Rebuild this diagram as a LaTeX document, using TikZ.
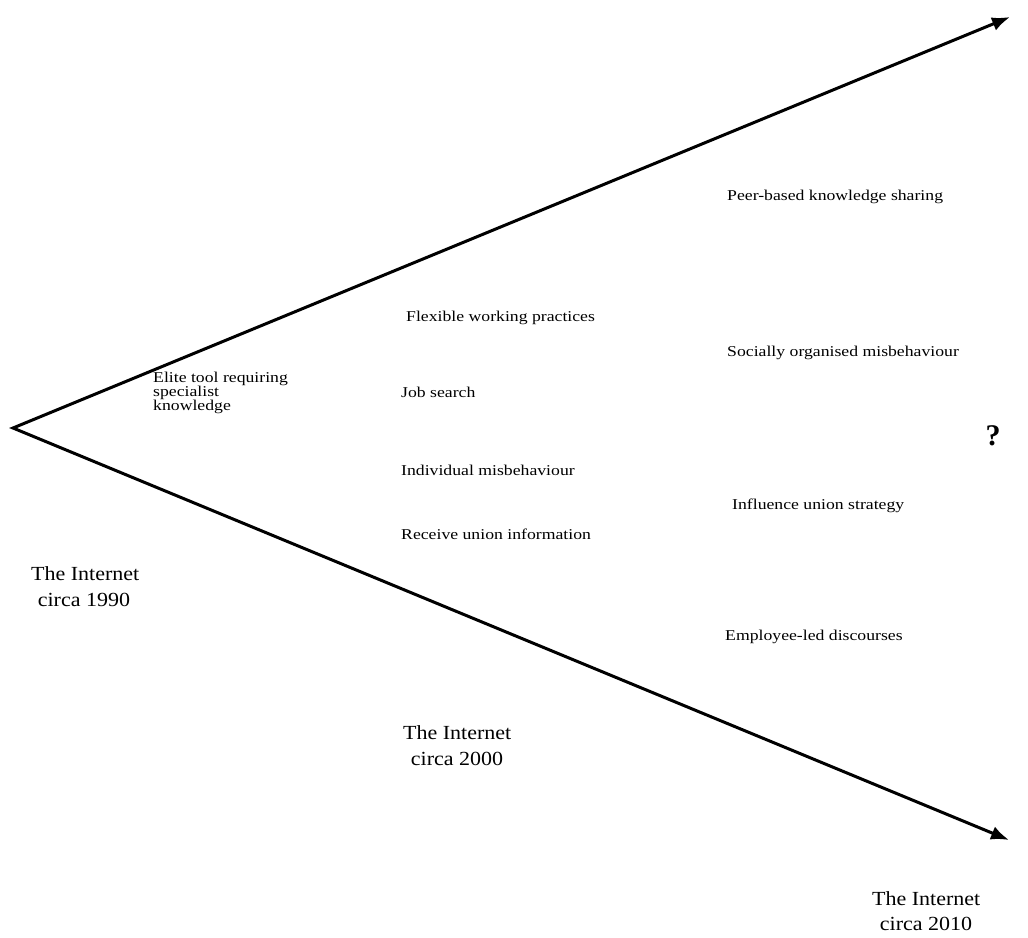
\documentclass[tikz,border=0pt]{standalone}
\usepackage{fontspec}
\usepackage{graphicx}
\setmainfont{Liberation Serif}
\usetikzlibrary{arrows.meta}
\newcommand{\widetext}[2]{\scalebox{#1}[1]{\begin{tabular}{@{}l@{}}#2\end{tabular}}}
\begin{document}
\begin{tikzpicture}[x=1pt,y=-1pt,
  small/.style={anchor=west,inner sep=0pt,font=\fontsize{15}{12.8}\selectfont},
  big/.style={anchor=west,inner sep=0pt,font=\fontsize{20}{26}\selectfont},
  axis/.style={line width=3pt,line join=miter,{Latex[length=18pt,width=14pt]}-{Latex[length=18pt,width=14pt]}}]
\useasboundingbox (0,0) rectangle (1028,937);
\coordinate (v) at (13,428);
\coordinate (top) at (1010,17);
\coordinate (bot) at (1009,840);
\draw[axis] (top) -- (v) -- (bot);
\renewcommand{\arraystretch}{1}
\node[small] (peer) at (727,197) {\widetext{1.18}{Peer-based knowledge sharing}};
\node[small] (flex) at (406,318) {\widetext{1.18}{Flexible working practices}};
\node[small] (soc) at (727,353) {\widetext{1.18}{Socially organised misbehaviour}};
\node[small] (job) at (401,394) {\widetext{1.18}{Job search}};
\node[small] (elite) at (153,393) {\widetext{1.18}{Elite tool requiring\\specialist\\knowledge}};
\node[anchor=center,inner sep=0pt,font=\fontsize{30}{30}\selectfont\bfseries] (q) at (993,436) {?};
\node[small] (ind) at (401,472) {\widetext{1.18}{Individual misbehaviour}};
\node[small] (infl) at (732,506) {\widetext{1.18}{Influence union strategy}};
\node[small] (rec) at (401,536) {\widetext{1.18}{Receive union information}};
\node[small] (emp) at (725,637) {\widetext{1.18}{Employee-led discourses}};
\node[big] (i1990) at (31,588) {\widetext{1.1}{The Internet\\\hspace{6pt}circa 1990}};
\node[big] (i2000) at (403,747) {\widetext{1.1}{The Internet\\\hspace{7pt}circa 2000}};
\node[big,font=\fontsize{20}{25}\selectfont] (i2010) at (872,913) {\widetext{1.1}{The Internet\\\hspace{7pt}circa 2010}};
\end{tikzpicture}
\end{document}
